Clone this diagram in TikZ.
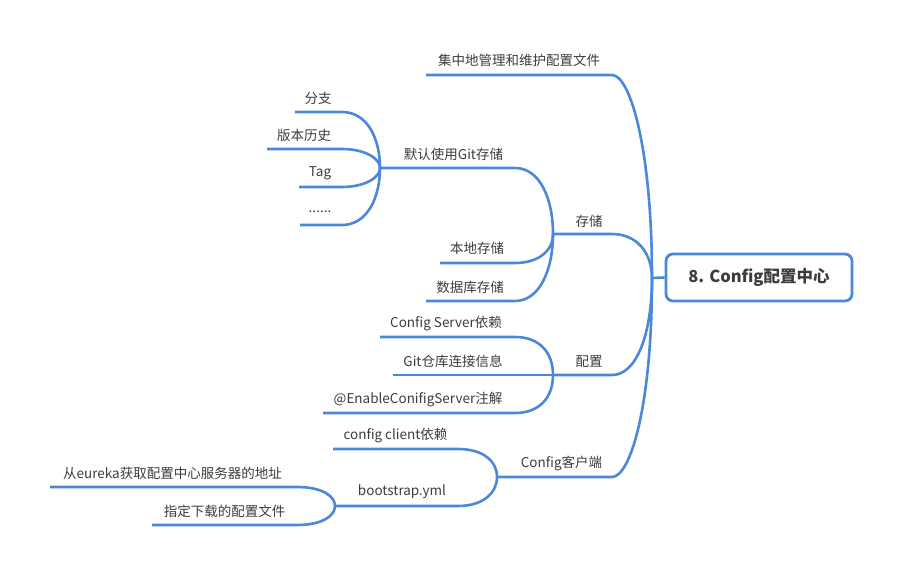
\documentclass[tikz,border=0pt]{standalone}
\usepackage{fontspec}
\setmainfont{Noto Sans CJK SC}
\definecolor{brc}{RGB}{75,136,215}
\definecolor{txt}{RGB}{60,60,60}
\begin{document}
\begin{tikzpicture}[x=1pt,y=-1pt,
  lbl/.style={inner sep=0pt, text=txt, font=\fontsize{13.5}{16}\selectfont},
  br/.style={draw=brc, line width=2.6pt, line join=round}]
\useasboundingbox (0,0) rectangle (904,577);
% root
\node[draw=brc, line width=2.8pt, rounded corners=7pt, minimum width=186pt, minimum height=47pt,
  inner sep=0pt, text=txt, font=\fontsize{16.5}{19}\selectfont\bfseries] (root) at (759,277.5) {8. Config配置中心};
\coordinate (hub) at (652,278);
\draw[br] (hub) -- (root.west);
% branch 1
\coordinate (a1L) at (426,75); \coordinate (a1R) at (612,75);
\draw[br] (a1L) -- (a1R) .. controls +(18,0) and +(0,-130) .. (hub);
\node[lbl] (a1) at (519,60.5) {集中地管理和维护配置文件};
% storage
\coordinate (s) at (553,234); \coordinate (sR) at (612,234);
\draw[br] (s) -- (sR) .. controls +(25,0) and +(0,-25) .. (hub);
\node[lbl] (st) at (589,221) {存储};
% git
\coordinate (g) at (380,168); \coordinate (gR) at (515,168);
\draw[br] (g) -- (gR) .. controls +(25,0) and +(0,-35) .. (s);
\node[lbl] (gt) at (453.5,154) {默认使用Git存储};
\coordinate (l1L) at (440,263); \coordinate (l1R) at (515,263);
\draw[br] (l1L) -- (l1R) .. controls +(22,0) and +(0,18) .. (s);
\node[lbl] (l1) at (477,248.5) {本地存储};
\coordinate (l2L) at (426,301); \coordinate (l2R) at (515,301);
\draw[br] (l2L) -- (l2R) .. controls +(25,0) and +(0,35) .. (s);
\node[lbl] (l2) at (470,287) {数据库存储};
% git children
\coordinate (b1L) at (295,112); \coordinate (b1R) at (342,112);
\draw[br] (b1L) -- (b1R) .. controls +(25,0) and +(0,-30) .. (g);
\node[lbl] (b1) at (318,98) {分支};
\coordinate (b2L) at (267,149); \coordinate (b2R) at (342,149);
\draw[br] (b2L) -- (b2R) .. controls +(22,0) and +(0,-10) .. (g);
\node[lbl] (b2) at (304,135) {版本历史};
\coordinate (b3L) at (299,187); \coordinate (b3R) at (342,187);
\draw[br] (b3L) -- (b3R) .. controls +(22,0) and +(0,10) .. (g);
\node[lbl] (b3) at (320,173) {Tag};
\coordinate (b4L) at (300,225); \coordinate (b4R) at (342,225);
\draw[br] (b4L) -- (b4R) .. controls +(25,0) and +(0,30) .. (g);
\node[lbl] (b4) at (320,212) {......};
% config
\coordinate (c) at (553,375); \coordinate (cR) at (612,375);
\draw[br] (c) -- (cR) .. controls +(25,0) and +(0,55) .. (hub);
\node[lbl] (ct) at (589,361.5) {配置};
\coordinate (c1L) at (380,337); \coordinate (c1R) at (515,337);
\draw[br] (c1L) -- (c1R) .. controls +(25,0) and +(0,-22) .. (c);
\node[lbl] (c1) at (446,323.5) {Config Server依赖};
\coordinate (c2L) at (393,375);
\draw[br] (c2L) -- (c);
\node[lbl] (c2) at (453,361.5) {Git仓库连接信息};
\coordinate (c3L) at (323,413); \coordinate (c3R) at (515,413);
\draw[br] (c3L) -- (c3R) .. controls +(25,0) and +(0,22) .. (c);
\node[lbl] (c3) at (418,399.5) {@EnableConifigServer注解};
% client
\coordinate (k) at (497,477); \coordinate (kR) at (612,477);
\draw[br] (k) -- (kR) .. controls +(18,0) and +(0,130) .. (hub);
\node[lbl] (kt) at (561.5,463.5) {Config客户端};
\coordinate (k1L) at (333,449); \coordinate (k1R) at (458,449);
\draw[br] (k1L) -- (k1R) .. controls +(25,0) and +(0,-16) .. (k);
\node[lbl] (k1) at (395.5,435.5) {config client依赖};
\coordinate (bs) at (335,506); \coordinate (bsR) at (458,506);
\draw[br] (bs) -- (bsR) .. controls +(25,0) and +(0,16) .. (k);
\node[lbl] (bst) at (402,492) {bootstrap.yml};
\coordinate (e1L) at (50,487); \coordinate (e1R) at (297,487);
\draw[br] (e1L) -- (e1R) .. controls +(25,0) and +(0,-10) .. (bs);
\node[lbl] (e1) at (172.5,473) {从eureka获取配置中心服务器的地址};
\coordinate (e2L) at (152,525); \coordinate (e2R) at (297,525);
\draw[br] (e2L) -- (e2R) .. controls +(25,0) and +(0,10) .. (bs);
\node[lbl] (e2) at (224.5,511) {指定下载的配置文件};
\end{tikzpicture}
\end{document}
